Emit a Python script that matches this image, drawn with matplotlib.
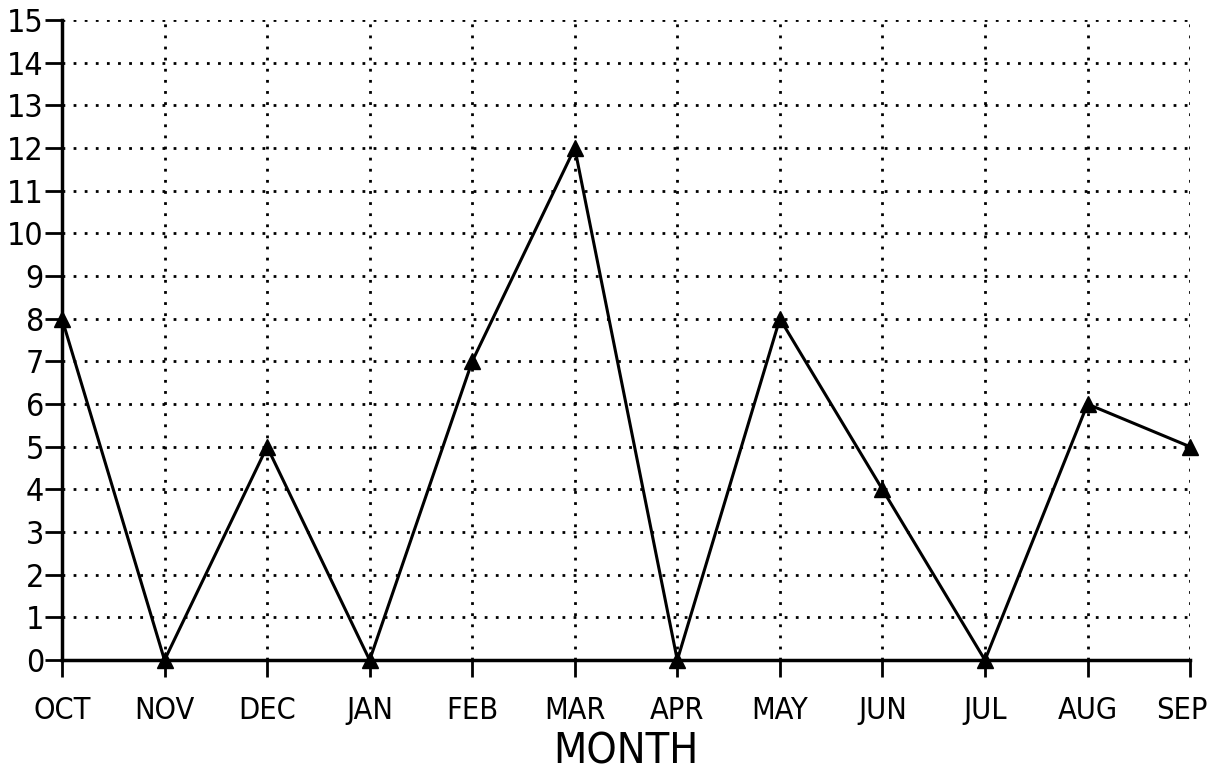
import matplotlib.pyplot as plt
import matplotlib.transforms as mtransforms

# data
months = ['OCT', 'NOV', 'DEC', 'JAN', 'FEB', 'MAR', 'APR', 'MAY', 'JUN', 'JUL', 'AUG', 'SEP']
counts = [8, 0, 5, 0, 7, 12, 0, 8, 4, 0, 6, 5]
yticks = list(range(0, 16))

plt.rcParams['font.family'] = ['DejaVu Sans']
plt.rcParams['font.stretch'] = 'condensed'

fig = plt.figure(figsize=(12.13, 7.84), dpi=100)
ax = fig.add_axes([0.0511, 0.158, 0.930, 0.8165])

x = list(range(len(months)))
ax.plot(x, counts, color='black', linewidth=2.2, marker='^', markersize=11,
        clip_on=False, zorder=3)

ax.set_xlim(0, len(months) - 1)
ax.set_ylim(0, 15)
ax.set_xticks(x)
ax.set_xticklabels(months, fontsize=22, stretch='condensed')
ax.set_yticks(yticks)
ax.set_yticklabels([str(v) for v in yticks], fontsize=23, stretch='condensed')
ax.tick_params(axis='both', length=12, width=2, color='black')
ax.tick_params(axis='x', pad=14)
ax.tick_params(axis='y', pad=1)

# the last label sits right at the figure edge; nudge it in a little
last = ax.get_xticklabels()[-1]
last.set_transform(last.get_transform() +
                   mtransforms.ScaledTranslation(-6 / 72, 0, fig.dpi_scale_trans))

ax.grid(True, color='black', linestyle=(0, (1, 3)), linewidth=2)
ax.set_axisbelow(True)
for side in ['top', 'right']:
    ax.spines[side].set_visible(False)
for side in ['left', 'bottom']:
    ax.spines[side].set_linewidth(2.5)

ax.set_xlabel('MONTH', fontsize=31, stretch='condensed', labelpad=4)

fig.savefig('out.png', dpi=100)
